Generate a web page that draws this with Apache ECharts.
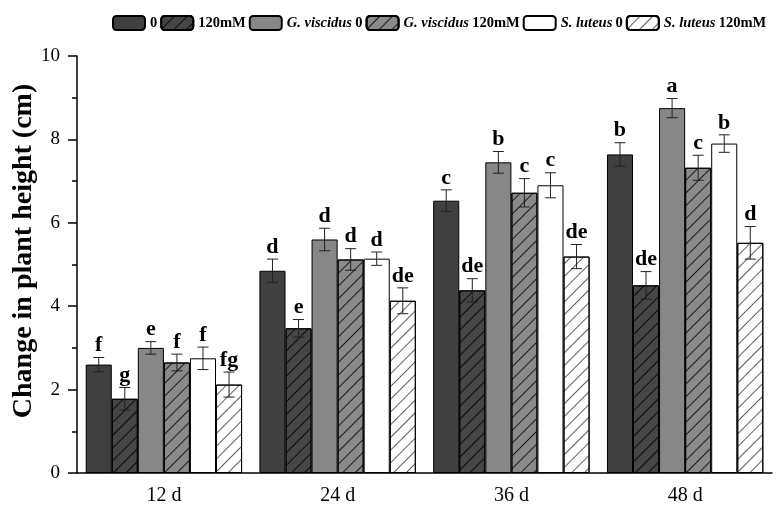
<!DOCTYPE html>
<html>
<head>
<meta charset="utf-8">
<script src="https://cdn.jsdelivr.net/npm/echarts@6/dist/echarts.min.js"></script>
<style>html,body{margin:0;padding:0;background:#fff}#c{width:784px;height:518px}</style>
</head>
<body>
<div id="c"></div>
<script>
const categories = ['12 d', '24 d', '36 d', '48 d'];
const seriesNames = ['0', '120mM', 'G. viscidus 0', 'G. viscidus 120mM', 'S. luteus 0', 'S. luteus 120mM'];
const ctrl0      = [2.60, 4.85, 6.53, 7.64];
const ctrl120    = [1.78, 3.47, 4.38, 4.50];
const gv0        = [3.00, 5.60, 7.45, 8.75];
const gv120      = [2.65, 5.12, 6.72, 7.32];
const sl0        = [2.75, 5.14, 6.90, 7.90];
const sl120      = [2.12, 4.13, 5.19, 5.52];
const errCtrl0   = [0.17, 0.28, 0.26, 0.28];
const errCtrl120 = [0.27, 0.21, 0.28, 0.33];
const errGv0     = [0.15, 0.27, 0.26, 0.23];
const errGv120   = [0.20, 0.26, 0.34, 0.30];
const errSl0     = [0.27, 0.16, 0.30, 0.21];
const errSl120   = [0.30, 0.31, 0.29, 0.39];
const letCtrl0   = ['f', 'd', 'c', 'b'];
const letCtrl120 = ['g', 'e', 'de', 'de'];
const letGv0     = ['e', 'd', 'b', 'a'];
const letGv120   = ['f', 'd', 'c', 'c'];
const letSl0     = ['f', 'd', 'c', 'b'];
const letSl120   = ['fg', 'de', 'de', 'd'];
const yTicks = [0, 2, 4, 6, 8, 10];
const yTitle = 'Change in plant height (cm)';

const values = [ctrl0, ctrl120, gv0, gv120, sl0, sl120];
const errors = [errCtrl0, errCtrl120, errGv0, errGv120, errSl0, errSl120];
const letters = [letCtrl0, letCtrl120, letGv0, letGv120, letSl0, letSl120];
const fills = ['#404040', '#464646', '#878787', '#8a8a8a', '#ffffff', '#ffffff'];
const hatchColors = [null, 'rgba(0,0,0,0.85)', null, 'rgba(0,0,0,0.8)', null, 'rgba(40,40,40,0.75)'];
const GAP = 0.10;
const SERIF = '"Liberation Serif", "Times New Roman", serif';

function hatch(col) {
  return { symbol: 'rect', symbolSize: 1, dashArrayX: [1, 0], dashArrayY: [0.8, 7.5],
    rotation: -Math.PI / 4, color: col };
}

const barSeries = seriesNames.map((n, i) => ({
  name: n, type: 'bar', xAxisIndex: 0, barGap: 0, barCategoryGap: (GAP * 100) + '%',
  data: values[i],
  itemStyle: Object.assign({ color: fills[i], borderColor: '#000', borderWidth: 1 },
    hatchColors[i] ? { decal: hatch(hatchColors[i]) } : {}),
  emphasis: { disabled: true }, z: 2
}));

const errData = [];
for (let s = 0; s < 6; s++) for (let c = 0; c < categories.length; c++)
  errData.push([c, s, values[s][c], errors[s][c], letters[s][c]]);

const errSeries = {
  type: 'custom', xAxisIndex: 0, z: 5, silent: true,
  data: errData,
  renderItem(params, api) {
    const c = api.value(0), s = api.value(1), v = api.value(2), e = api.value(3);
    const lab = errData[params.dataIndex][4];
    const band = api.size([1, 0])[0];
    const bw = band * (1 - GAP) / 6;
    const cx = api.coord([c, 0])[0] + (s - 2.5) * bw;
    const yT = api.coord([c, v + e])[1], yB = api.coord([c, v - e])[1];
    const h = 5.5;
    const st = { stroke: '#222', lineWidth: 1 };
    return { type: 'group', children: [
      { type: 'line', shape: { x1: cx, y1: yT, x2: cx, y2: yB }, style: st },
      { type: 'line', shape: { x1: cx - h, y1: yT, x2: cx + h, y2: yT }, style: st },
      { type: 'line', shape: { x1: cx - h, y1: yB, x2: cx + h, y2: yB }, style: st },
      { type: 'text', x: cx, y: yT - 1, style: { text: lab, textAlign: 'center', textVerticalAlign: 'bottom',
        font: 'bold 22px ' + SERIF, fill: '#000' } }
    ]};
  }
};

const chart = echarts.init(document.getElementById('c'));
chart.setOption({
  animation: false,
  backgroundColor: '#fff',
  grid: { left: 77, right: 12, top: 56, bottom: 45 },
  legend: {
    data: seriesNames, left: 107, top: 10, width: 677, itemWidth: 32, itemHeight: 14, itemGap: 3,
    selectedMode: false,
    formatter(n) {
      if (n.startsWith('G. ') || n.startsWith('S. ')) {
        const k = n.lastIndexOf(' ');
        return '{i|' + n.slice(0, k) + '} {b|' + n.slice(k + 1) + '}';
      }
      return '{b|' + n + '}';
    },
    textStyle: { rich: {
      i: { fontFamily: SERIF, fontStyle: 'italic', fontWeight: 'bold', fontSize: 14.5, color: '#000' },
      b: { fontFamily: SERIF, fontWeight: 'bold', fontSize: 14.5, color: '#000' }
    } }
  },
  graphic: [{
    type: 'text', x: 24, y: 251, rotation: Math.PI / 2,
    style: { text: yTitle, textAlign: 'center', textVerticalAlign: 'middle',
      font: 'bold 28px ' + SERIF, fill: '#000' }
  }],
  xAxis: [
    { type: 'category', data: categories, position: 'bottom',
      axisLine: { lineStyle: { color: '#000', width: 1.5 } },
      axisTick: { alignWithLabel: true, length: 10, lineStyle: { color: '#000', width: 1.5 } },
      axisLabel: { fontFamily: SERIF, fontSize: 20, color: '#000', margin: 13 } },
    { type: 'category', data: categories, position: 'bottom', gridIndex: 0,
      axisLine: { show: false },
      axisTick: { alignWithLabel: false, length: 5, lineStyle: { color: '#000', width: 1.5 } },
      axisLabel: { show: false } }
  ],
  yAxis: {
    type: 'value', min: yTicks[0], max: yTicks[yTicks.length - 1], interval: 2,
    axisLine: { show: true, lineStyle: { color: '#000', width: 1.5 } },
    axisTick: { show: true, length: 9, lineStyle: { color: '#000', width: 1.5 } },
    minorTick: { show: true, splitNumber: 2, length: 5, lineStyle: { color: '#000', width: 1.5 } },
    splitLine: { show: false },
    axisLabel: { fontFamily: SERIF, fontSize: 19, color: '#000', margin: 17 }
  },
  series: barSeries.concat([errSeries])
});
</script>
</body>
</html>
